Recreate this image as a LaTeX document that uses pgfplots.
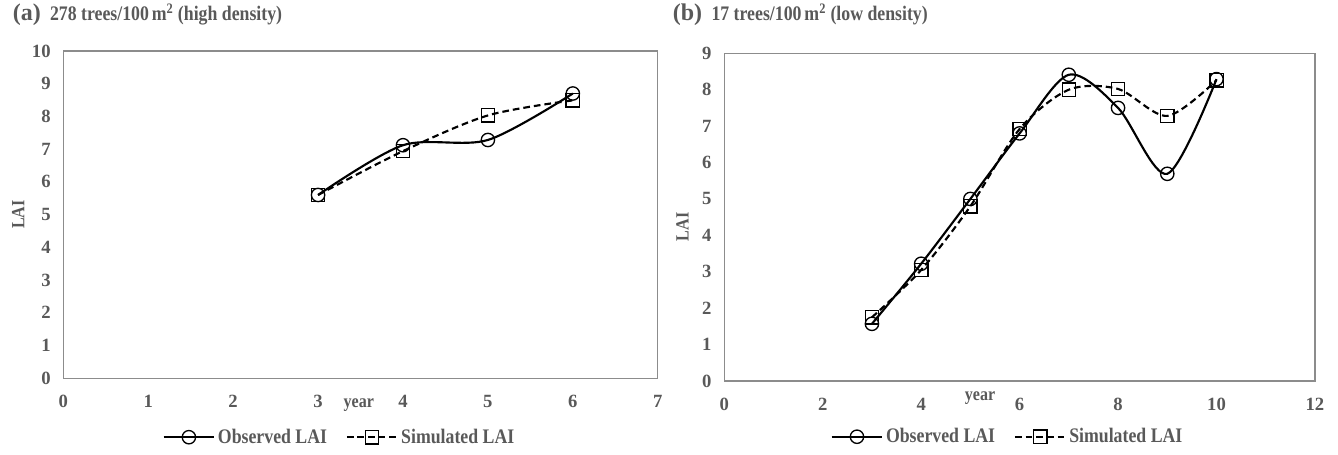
\documentclass[border=0pt]{standalone}
\usepackage{pgfplots}
\pgfplotsset{compat=1.18}
\usepackage{fontspec}
\setmainfont{Liberation Serif}

\definecolor{framegray}{HTML}{8C8C8C}
\definecolor{labgray}{HTML}{595959}

% observed / simulated LAI, panel (a)
\pgfplotstableread{
x y
3 5.60
4 7.12
5 7.28
6 8.70
}\obsA
\pgfplotstableread{
x y
3 5.60
4 6.94
5 8.03
6 8.49
}\simA
% panel (b)
\pgfplotstableread{
x y
3 1.57
4 3.22
5 5.00
6 6.80
7 8.41
8 7.50
9 5.69
10 8.29
}\obsB
\pgfplotstableread{
x y
3 1.75
4 3.05
5 4.80
6 6.92
7 8.00
8 8.02
9 7.28
10 8.26
}\simB

\newcommand{\cond}[1]{\scalebox{0.86}[1]{#1}}

\pgfplotsset{
  laistyle/.style={
    scale only axis,
    axis line style={framegray, line width=1pt},
    major tick length=0pt,
    font=\bfseries\fontsize{14}{16}\selectfont,
    tick label style={labgray, font=\bfseries\fontsize{14}{16}\selectfont},
    xticklabel style={yshift=-9pt},
    yticklabel style={xshift=-6pt},
    /pgf/number format/assume math mode=true,
    label style={labgray},
    ylabel=\cond{LAI},
    xlabel=\cond{year},
    legend columns=2,
    legend style={draw=none, fill=none, font=\bfseries\fontsize{15.5}{17}\selectfont,
      text=labgray, /tikz/every even column/.append style={column sep=12pt}},
    legend cell align=left,
    legend image code/.code={
      \draw[#1, mark repeat=2, mark phase=2] plot coordinates {(0pt,0pt) (19pt,0pt) (38pt,0pt)};
    },
  },
  obs/.style={black, line width=1.6pt, smooth, tension=0.5, mark=o,
    mark size=5pt, mark options={solid, line width=1pt}},
  sim/.style={black, line width=1.6pt, dash pattern=on 5pt off 3pt, smooth, tension=0.5,
    mark=square, mark size=5pt, mark options={solid, line width=1pt}},
}

\begin{document}
\begin{tikzpicture}
\path[use as bounding box] (0pt,0pt) rectangle (1003.5pt,-340.5pt);

\begin{axis}[laistyle,
  at={(47.5pt,-283.7pt)}, anchor=south west,
  width=445.8pt, height=245.5pt,
  xmin=0, xmax=7, ymin=0, ymax=10,
  xtick={0,...,7}, ytick={0,...,10},
  xlabel style={at={(axis description cs:0.497,-0.083)}, anchor=center},
  ylabel style={at={(axis description cs:-0.076,0.5)}, anchor=center},
  legend style={at={(axis description cs:0.465,-0.18)}, anchor=center},
  title={\fontsize{18}{18}\selectfont(a)\hspace{7pt}\fontsize{15.5}{17}\selectfont\cond{278 trees/100\,m\textsuperscript{2} (high density)}},
  title style={at={(axis description cs:-0.093,1.07)}, anchor=base west, labgray, font=\bfseries},
]
\addplot[obs] table {\obsA};
\addlegendentry{\cond{Observed LAI}}
\addplot[sim] table {\simA};
\addlegendentry{\cond{Simulated LAI}}
\end{axis}

\begin{axis}[laistyle,
  at={(543.2pt,-285.75pt)}, anchor=south west,
  width=443pt, height=245.8pt,
  xmin=0, xmax=12, ymin=0, ymax=9,
  xtick={0,2,...,12}, ytick={0,...,9},
  xlabel style={at={(axis description cs:0.433,-0.052)}, anchor=center},
  ylabel style={at={(axis description cs:-0.071,0.47)}, anchor=center},
  legend style={at={(axis description cs:0.48,-0.17)}, anchor=center},
  title={\fontsize{18}{18}\selectfont(b)\hspace{7pt}\fontsize{15.5}{17}\selectfont\cond{17 trees/100\,m\textsuperscript{2} (low density)}},
  title style={at={(axis description cs:-0.095,1.076)}, anchor=base west, labgray, font=\bfseries},
]
\addplot[obs] table {\obsB};
\addlegendentry{\cond{Observed LAI}}
\addplot[sim] table {\simB};
\addlegendentry{\cond{Simulated LAI}}
\end{axis}
\end{tikzpicture}
\end{document}
